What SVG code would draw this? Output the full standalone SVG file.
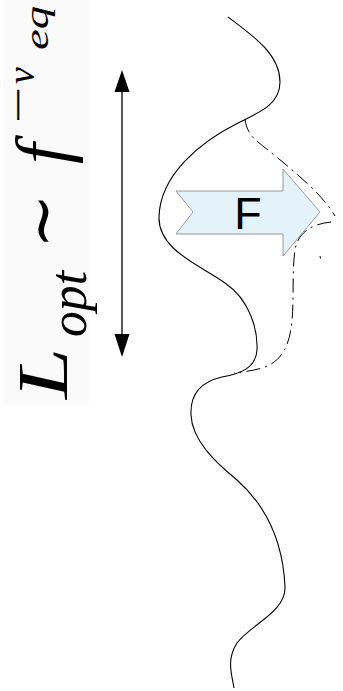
<svg xmlns="http://www.w3.org/2000/svg" width="343" height="691" viewBox="0 0 343 691">
  <style>
    .math { font-family: "Liberation Serif", "DejaVu Serif", serif; font-style: italic; fill: #000; }
    .up { font-family: "Liberation Serif", "DejaVu Serif", serif; fill: #000; }
    .curve { fill: none; stroke: #000; stroke-width: 1.1; }
    .dash { fill: none; stroke: #000; stroke-width: 1; stroke-dasharray: 14 5 2 5; }
    .force { fill: #e4f2fa; stroke: #9a9a9a; stroke-width: 1; }
    .label { font-family: "Liberation Sans", Arial, sans-serif; font-size: 45px; fill: #000; }
  </style>

  <rect width="343" height="691" fill="#fff"/>

  <!-- scaling law, set vertically -->
  <g id="law">
    <rect x="3" y="0" width="86" height="405" fill="#fafafa"/>
    <g transform="translate(67,400) rotate(-90)">
      <text class="math" x="1" y="0" font-size="72" textLength="51" lengthAdjust="spacingAndGlyphs">L</text>
      <text class="math" x="63" y="19" font-size="52" textLength="66" lengthAdjust="spacingAndGlyphs">opt</text>
      <text class="up" x="179" y="-3" font-size="66" text-anchor="middle" font-family="DejaVu Serif, serif">∼</text>
      <text class="math" x="236" y="0" font-size="74">f</text>
      <text class="up" x="278" y="-39.5" font-size="30" stroke="#000" stroke-width="0.6" textLength="35" lengthAdjust="spacingAndGlyphs">−</text>
      <text class="math" x="316" y="-33" font-size="38">ν</text>
      <text class="math" x="350" y="-19" font-size="34" textLength="44" lengthAdjust="spacingAndGlyphs">eq</text>
    </g>
  </g>

  <!-- length span -->
  <g id="span">
    <line x1="122" y1="90" x2="122" y2="336" stroke="#000" stroke-width="1.3"/>
    <path d="M122,70 L129.5,92 L114.5,92 Z"/>
    <path d="M122,357 L129.5,334 L114.5,334 Z"/>
  </g>

  <!-- connectors: the line and its displaced segment -->
  <g id="connectors">
    <path class="curve" d="M228,17 C255,37 280,55 280,82 C280,105 258,113 238,123 C200,142 160,175 159,217 C158,250 200,265 225,283 C250,300 258,330 257,350 C256,368 240,374 222,377 C200,382 190,395 191,415 C192,440 215,462 237,480 C265,505 283,540 285,587 C286,612 250,625 237,643 C226,660 232,675 234,688"/>
    <path class="dash" d="M245,119 C246,128 250,136 258,142 C280,160 320,190 335,216"/>
    <path class="dash" d="M331,222 C312,224 298,232 295,250 C292,270 294,300 292,320 C290,345 282,362 262,368 C252,371 242,372 234,373"/>
    <line x1="320" y1="256" x2="320.5" y2="258.5" stroke="#000" stroke-width="1"/>
  </g>

  <!-- applied force -->
  <g id="force">
    <polygon class="force" points="176,191 283,191 283,169 320,212 283,256 283,234 176,234 193,212"/>
    <text class="label" x="248" y="229" text-anchor="middle">F</text>
  </g>
</svg>
